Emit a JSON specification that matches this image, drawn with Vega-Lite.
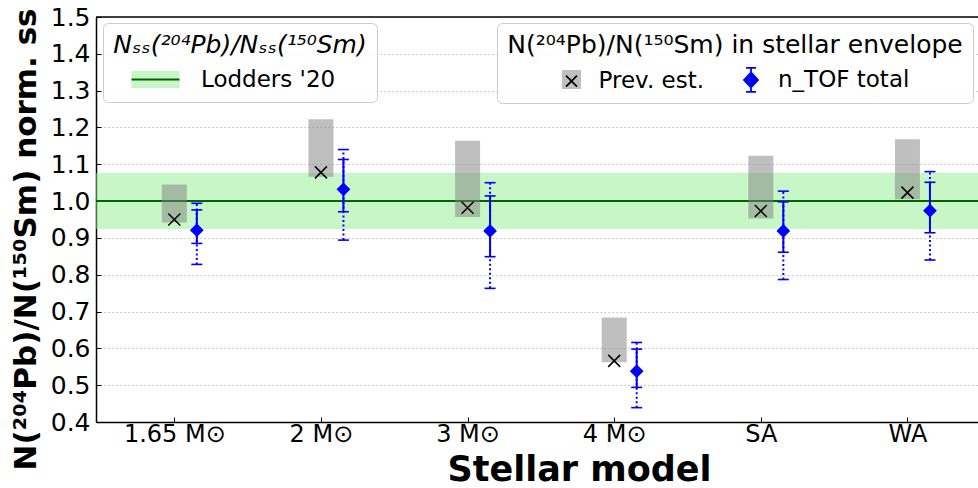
{
  "$schema": "https://vega.github.io/schema/vega-lite/v6.json",
  "width": 882,
  "height": 405,
  "autosize": {"type": "none"},
  "padding": {"left": 96, "top": 17, "right": 0, "bottom": 66},
  "background": "white",
  "config": {
    "font": "DejaVu Sans",
    "view": {"stroke": null},
    "axis": {"domainColor": "#000", "domainWidth": 1.5, "ticks": true, "tickSize": -5, "tickColor": "#000", "tickWidth": 1, "labelFont": "DejaVu Sans", "labelFontSize": 25, "labelColor": "#000", "labelOverlap": false, "labelSeparation": 0, "titleFont": "DejaVu Sans", "titleFontWeight": "bold", "titleColor": "#000", "grid": false},
    "legend": {"orient": "none", "labelFont": "DejaVu Sans", "labelFontSize": 23, "labelColor": "#000", "titleFont": "DejaVu Sans", "titleFontSize": 25, "titleFontWeight": "normal", "titleColor": "#000", "titleLimit": 1000, "labelLimit": 1000, "symbolSize": 400, "symbolStrokeWidth": 2, "padding": 10, "titlePadding": 10, "titleAnchor": "middle"}
  },
  "datasets": {
    "models": [
      {"model": "1.65 M⊙", "pos": 0, "prev_lo": 0.942, "prev_hi": 1.045, "prev": 0.950, "ntof": 0.921, "stat_lo": 0.885, "stat_hi": 0.976, "tot_lo": 0.828, "tot_hi": 0.994},
      {"model": "2 M⊙", "pos": 1, "prev_lo": 1.066, "prev_hi": 1.222, "prev": 1.078, "ntof": 1.032, "stat_lo": 0.971, "stat_hi": 1.113, "tot_lo": 0.894, "tot_hi": 1.140},
      {"model": "3 M⊙", "pos": 2, "prev_lo": 0.957, "prev_hi": 1.164, "prev": 0.982, "ntof": 0.919, "stat_lo": 0.849, "stat_hi": 1.014, "tot_lo": 0.763, "tot_hi": 1.050},
      {"model": "4 M⊙", "pos": 3, "prev_lo": 0.562, "prev_hi": 0.684, "prev": 0.566, "ntof": 0.538, "stat_lo": 0.494, "stat_hi": 0.598, "tot_lo": 0.439, "tot_hi": 0.616},
      {"model": "SA", "pos": 4, "prev_lo": 0.953, "prev_hi": 1.123, "prev": 0.973, "ntof": 0.919, "stat_lo": 0.861, "stat_hi": 0.998, "tot_lo": 0.787, "tot_hi": 1.027},
      {"model": "WA", "pos": 5, "prev_lo": 1.005, "prev_hi": 1.168, "prev": 1.023, "ntof": 0.974, "stat_lo": 0.914, "stat_hi": 1.051, "tot_lo": 0.840, "tot_hi": 1.080}
    ],
    "ref": [{"ratio": 1.0, "lo": 0.924, "hi": 1.076, "top": 1.5}]
  },
  "layer": [
    {
      "data": {"name": "ref"},
      "mark": {"type": "rect", "opacity": 0.5},
      "encoding": {
        "x": {"value": 0},
        "x2": {"value": "width"},
        "y": {"field": "lo", "type": "quantitative", "scale": {"domain": [0.4, 1.5], "nice": false, "zero": false},
          "axis": {"tickCount": 11, "format": ".1f", "labelOverlap": false, "labelBound": false, "labelFlush": false, "grid": true, "gridColor": "#bdbdbd", "gridDash": [1.5, 2.5], "gridWidth": 1, "labelPadding": 11,
            "title": "N(²⁰⁴Pb)/N(¹⁵⁰Sm) norm. ss", "titleFontSize": 31, "titleAngle": -90, "titleX": -70, "titleY": 222, "titleBaseline": "middle", "titleAlign": "center"}},
        "y2": {"field": "hi"},
        "color": {"datum": "Lodders '20", "scale": {"domain": ["Lodders '20"], "range": ["#90ee90"]},
          "legend": {"title": "Nₛₛ(²⁰⁴Pb)/Nₛₛ(¹⁵⁰Sm)", "titleFontStyle": "italic", "legendX": 7, "legendY": 6, "fillColor": "rgba(255,255,255,0.8)", "strokeColor": "#cccccc", "cornerRadius": 5, "labelOffset": 34, "zindex": 1,
            "symbolType": "M-5,0M-2.4,-0.85H2.4V0.85H-2.4Z", "symbolStrokeColor": "transparent"}}
      }
    },
    {
      "data": {"name": "ref"},
      "mark": {"type": "rule", "strokeWidth": 2, "color": "#006400"},
      "encoding": {
        "y": {"field": "ratio", "type": "quantitative"},
        "strokeDash": {"datum": "lod", "scale": {"domain": ["lod"], "range": [[1, 0]]},
          "legend": {"title": "Nₛₛ(²⁰⁴Pb)/Nₛₛ(¹⁵⁰Sm)", "titleFontStyle": "italic", "titleColor": "transparent", "labelColor": "transparent", "labelExpr": "\"Lodders '20\"", "legendX": 7, "legendY": 6, "labelOffset": 34, "zindex": 2,
            "symbolType": "M-5,0M-2.4,-0.85M2.4,0.85M-2.4,0H2.4", "symbolStrokeColor": "#006400", "symbolStrokeWidth": 2}}
      }
    },
    {
      "data": {"name": "ref"},
      "mark": {"type": "rule", "strokeWidth": 1.5, "color": "#000000"},
      "encoding": {
        "y": {"field": "top", "type": "quantitative"}
      }
    },
    {
      "data": {"name": "models"},
      "mark": {"type": "bar", "width": 25, "opacity": 0.5},
      "encoding": {
        "x": {"field": "pos", "type": "quantitative", "scale": {"domain": [-0.5, 5.447], "nice": false, "zero": false},
          "axis": {"values": [0, 1, 2, 3, 4, 5], "labelExpr": "['1.65 M⊙','2 M⊙','3 M⊙','4 M⊙','SA','WA'][datum.value]", "labelOverlap": false, "labelFontSize": 24, "labelPadding": 5, "title": "Stellar model", "titleFontSize": 35, "titleX": 483, "titleY": 58, "titleBaseline": "alphabetic", "titleAlign": "center"}},
        "y": {"field": "prev_lo", "type": "quantitative"},
        "y2": {"field": "prev_hi"},
        "fill": {"datum": "Prev. est.", "scale": {"domain": ["Prev. est.", "n_TOF total"], "range": ["#808080", "transparent"]},
          "legend": {"title": "N(²⁰⁴Pb)/N(¹⁵⁰Sm) in stellar envelope", "titleColor": "transparent", "labelColor": "transparent", "legendX": 401, "legendY": 6, "columns": 2, "columnPadding": -24.5, "fillColor": "rgba(255,255,255,0.8)", "strokeColor": "#cccccc", "cornerRadius": 5, "labelOffset": 15.5, "zindex": 1,
            "symbolType": "M-6.75,0M-0.95,-0.95H0.95V0.95H-0.95Z", "symbolStrokeColor": "transparent"}}
      }
    },
    {
      "data": {"name": "models"},
      "mark": {"type": "point", "size": 476, "strokeWidth": 1.5, "filled": true, "fill": "#0000ff", "opacity": 1},
      "encoding": {
        "x": {"field": "pos", "type": "quantitative"},
        "y": {"field": "prev", "type": "quantitative"},
        "stroke": {"datum": "prev", "scale": {"domain": ["prev", "ntof"], "range": ["#000000", "#0000ff"]},
          "legend": {"title": "N(²⁰⁴Pb)/N(¹⁵⁰Sm) in stellar envelope", "labelExpr": "datum.value === 'prev' ? 'Prev. est.' : 'n_TOF total'", "legendX": 401, "legendY": 6, "columns": 2, "columnPadding": -24.5, "labelOffset": 15.5, "zindex": 2, "symbolFillColor": "#0000ff", "symbolStrokeWidth": 1.8, "symbolOpacity": 1}},
        "shape": {"datum": "prev", "scale": {"domain": ["prev", "ntof"], "range": ["M-6.75,0M-0.95,-0.95M0.95,0.95M-0.55,-0.55L0.55,0.55M-0.55,0.55L0.55,-0.55", "M-6.75,0M0,-0.75L0.7,0L0,0.75L-0.7,0Z M0,-1.2V1.2 M-0.5,-1.2H0.5 M-0.5,1.2H0.5"]},
          "legend": {"title": "N(²⁰⁴Pb)/N(¹⁵⁰Sm) in stellar envelope", "labelExpr": "datum.value === 'prev' ? 'Prev. est.' : 'n_TOF total'", "legendX": 401, "legendY": 6, "columns": 2, "columnPadding": -24.5, "labelOffset": 15.5, "zindex": 2, "symbolFillColor": "#0000ff", "symbolStrokeWidth": 1.8, "symbolOpacity": 1}}
      }
    },
    {
      "data": {"name": "models"},
      "mark": {"type": "rule", "strokeWidth": 2, "strokeDash": [2, 2.5], "xOffset": 22.5},
      "encoding": {
        "x": {"field": "pos", "type": "quantitative"},
        "y": {"field": "tot_lo", "type": "quantitative"},
        "y2": {"field": "tot_hi"},
        "stroke": {"datum": "ntof"}
      }
    },
    {
      "data": {"name": "models"},
      "mark": {"type": "rule", "strokeWidth": 2, "xOffset": 22.5},
      "encoding": {
        "x": {"field": "pos", "type": "quantitative"},
        "y": {"field": "stat_lo", "type": "quantitative"},
        "y2": {"field": "stat_hi"},
        "stroke": {"datum": "ntof"}
      }
    },
    {
      "data": {"name": "models"},
      "transform": [{"fold": ["stat_lo", "stat_hi", "tot_lo", "tot_hi"], "as": ["kind", "val"]}],
      "mark": {"type": "tick", "orient": "horizontal", "size": 11, "thickness": 1.6, "color": "#0000ff", "opacity": 1, "xOffset": 22.5},
      "encoding": {
        "x": {"field": "pos", "type": "quantitative"},
        "y": {"field": "val", "type": "quantitative"}
      }
    },
    {
      "data": {"name": "models"},
      "mark": {"type": "point", "shape": "diamond", "filled": true, "size": 190, "opacity": 1, "color": "#0000ff", "xOffset": 22.5},
      "encoding": {
        "x": {"field": "pos", "type": "quantitative"},
        "y": {"field": "ntof", "type": "quantitative"}
      }
    }
  ]
}
